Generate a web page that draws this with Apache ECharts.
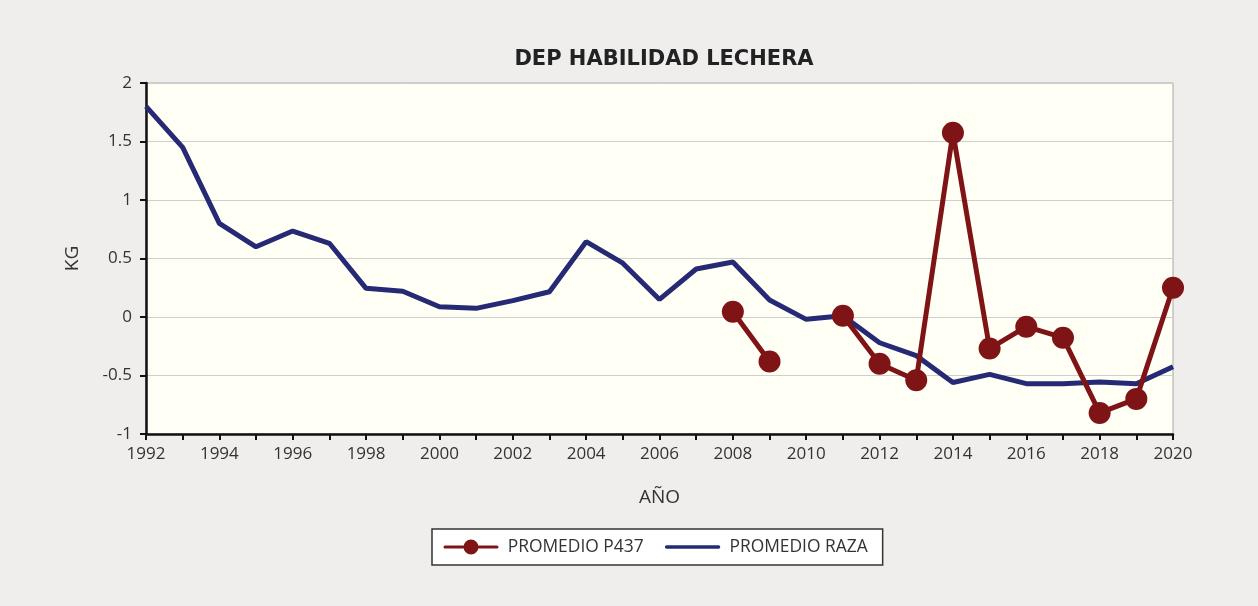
<!DOCTYPE html>
<html>
<head>
<meta charset="utf-8">
<script src="https://cdn.jsdelivr.net/npm/echarts@6/dist/echarts.min.js"></script>
<style>
  html, body { margin: 0; padding: 0; background: #efeeed; }
  #chart { width: 1258px; height: 606px; }
</style>
</head>
<body>
<div id="chart"></div>
<script>
// años del eje X
const years = ['1992','1993','1994','1995','1996','1997','1998','1999','2000','2001',
  '2002','2003','2004','2005','2006','2007','2008','2009','2010','2011',
  '2012','2013','2014','2015','2016','2017','2018','2019','2020'];

// promedio de la raza
const promedioRaza = [1.80, 1.45, 0.80, 0.60, 0.735, 0.63, 0.245, 0.22, 0.088, 0.074,
  0.14, 0.216, 0.644, 0.46, 0.15, 0.41, 0.47, 0.145, -0.02, 0.01,
  -0.22, -0.33, -0.56, -0.49, -0.57, -0.57, -0.555, -0.57, -0.425];

// promedio P437 (sin dato antes de 2008 y en 2010)
const promedioP437 = [null, null, null, null, null, null, null, null, null, null,
  null, null, null, null, null, null, 0.045, -0.38, null, 0.01,
  -0.40, -0.54, 1.575, -0.27, -0.083, -0.177, -0.82, -0.70, 0.25];

const chart = echarts.init(document.getElementById('chart'));

const labelFont = { color: '#333', fontSize: 17, fontFamily: 'Open Sans' };

// iconos de la leyenda: línea con punto / línea sola (misma caja 56x18)
const iconPunto = 'path://M2,7.5L54,7.5A1.5,1.5 0 0 1 54,10.5L2,10.5A1.5,1.5 0 0 1 2,7.5Z'
  + 'M28,1.5A7.5,7.5 0 1 1 27.99,1.5Z'
  + 'M0,0L0.01,0L0,0.01Z M0,18L0.01,18L0,17.99Z';
const iconLinea = 'path://M2,7.3L54,7.3A1.7,1.7 0 0 1 54,10.7L2,10.7A1.7,1.7 0 0 1 2,7.3Z'
  + 'M0,0L0.01,0L0,0.01Z M0,18L0.01,18L0,17.99Z';

const option = {
  backgroundColor: '#efeeed',
  animation: false,
  title: {
    text: 'DEP HABILIDAD LECHERA',
    left: 659,
    top: 44,
    textAlign: 'center',
    textStyle: { color: '#222', fontSize: 21, fontWeight: 'bold', fontFamily: 'DejaVu Sans' }
  },
  grid: {
    left: 146, right: 85, top: 83, bottom: 172,
    show: true,
    backgroundColor: '#fffff6',
    borderColor: '#a8a8a8',
    borderWidth: 1
  },
  legend: {
    left: 432,
    top: 529,
    backgroundColor: '#fff',
    borderColor: '#333',
    borderWidth: 1.5,
    padding: [9, 15, 9, 11],
    itemGap: 21,
    itemWidth: 56,
    itemHeight: 18,
    textStyle: { color: '#333', fontSize: 17.4, fontFamily: 'Open Sans', padding: [0, 0, 0, 4] },
    data: [
      { name: 'PROMEDIO P437', icon: iconPunto, itemStyle: { color: '#7f1416' } },
      { name: 'PROMEDIO RAZA', icon: iconLinea, itemStyle: { color: '#262a74' } }
    ]
  },
  xAxis: {
    type: 'category',
    data: years,
    boundaryGap: false,
    name: 'AÑO',
    nameLocation: 'middle',
    nameGap: 54,
    nameTextStyle: { color: '#333', fontSize: 19, fontFamily: 'Open Sans' },
    axisLine: { onZero: false, lineStyle: { color: '#111', width: 2.5 } },
    axisTick: { interval: 0, length: 6, lineStyle: { color: '#111', width: 2 } },
    axisLabel: Object.assign({ interval: 1, margin: 12 }, labelFont),
    splitLine: { show: false }
  },
  yAxis: {
    type: 'value',
    min: -1,
    max: 2,
    interval: 0.5,
    name: 'KG',
    nameLocation: 'middle',
    nameGap: 64,
    nameTextStyle: { color: '#333', fontSize: 19, fontFamily: 'Open Sans' },
    axisLine: { show: true, lineStyle: { color: '#111', width: 2.5 } },
    axisTick: { show: true, length: 6, lineStyle: { color: '#111', width: 2 } },
    axisLabel: Object.assign({ margin: 14 }, labelFont),
    splitLine: { lineStyle: { color: '#cfcfcf', width: 1.2 } }
  },
  series: [
    {
      name: 'PROMEDIO P437',
      type: 'line',
      data: promedioP437,
      connectNulls: false,
      symbol: 'circle',
      symbolSize: 22,
      z: 3,
      itemStyle: { color: '#7f1416' },
      lineStyle: { color: '#7f1416', width: 5 }
    },
    {
      name: 'PROMEDIO RAZA',
      type: 'line',
      data: promedioRaza,
      symbol: 'none',
      z: 2,
      itemStyle: { color: '#262a74' },
      lineStyle: { color: '#262a74', width: 5 }
    }
  ]
};

chart.setOption(option);
</script>
</body>
</html>
